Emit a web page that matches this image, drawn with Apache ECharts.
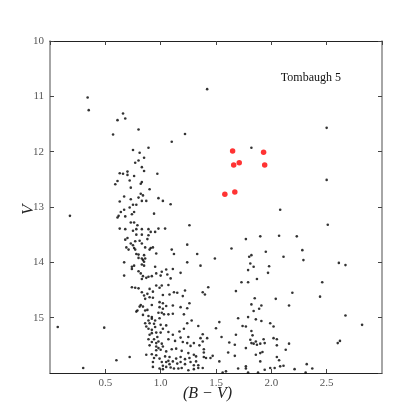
<!DOCTYPE html>
<html>
<head>
<meta charset="utf-8">
<script src="https://cdn.jsdelivr.net/npm/echarts@6/dist/echarts.min.js"></script>
<style>
  html, body { margin: 0; padding: 0; background: #fff; }
  #main { width: 415px; height: 415px; }
</style>
</head>
<body>
<div id="main"></div>
<script>
// (B-V), V for field stars (black dots)
const fieldStars = [
  [0.34, 11.02], [0.35, 11.25], [0.66, 11.31], [0.61, 11.43], [0.68, 11.40], [0.57, 11.69],
  [0.80, 11.60], [1.42, 10.87], [1.22, 11.68], [1.10, 11.82], [0.75, 11.97], [0.89, 11.93],
  [0.81, 12.02], [0.85, 12.11], [0.80, 12.16], [0.77, 12.20], [1.82, 11.93], [2.50, 11.57],
  [0.83, 12.28], [0.85, 12.35], [0.63, 12.39], [0.66, 12.40], [0.70, 12.36], [0.70, 12.42],
  [0.76, 12.44], [0.97, 12.40], [0.61, 12.53], [0.59, 12.59], [0.72, 12.52], [0.83, 12.55],
  [0.82, 12.58], [0.73, 12.65], [0.90, 12.68], [0.82, 12.76], [0.84, 12.79], [0.67, 12.81],
  [0.73, 12.86], [0.80, 12.83], [0.83, 12.89], [0.87, 12.89], [0.98, 12.84], [1.02, 12.89],
  [1.09, 12.95], [0.63, 12.90], [0.75, 12.96], [0.78, 12.96], [0.72, 13.01], [0.67, 13.05],
  [0.64, 13.09], [0.76, 13.09], [0.74, 13.13], [0.94, 13.12], [0.62, 13.16], [0.61, 13.19],
  [0.68, 13.17], [0.73, 13.28], [0.76, 13.28], [0.79, 13.33], [1.26, 13.33], [0.63, 13.39],
  [0.68, 13.40], [0.75, 13.43], [0.78, 13.40], [0.83, 13.40], [0.89, 13.40], [0.91, 13.45],
  [0.95, 13.45], [0.98, 13.39], [1.04, 13.39], [0.78, 13.50], [0.83, 13.50], [0.89, 13.51],
  [0.70, 13.56], [0.68, 13.59], [0.88, 13.58], [0.73, 13.66], [0.77, 13.62], [0.81, 13.61],
  [0.83, 13.66], [0.75, 13.69], [0.69, 13.73], [0.71, 13.77], [0.76, 13.74], [0.77, 13.77],
  [0.86, 13.73], [0.90, 13.77], [0.91, 13.74], [0.93, 13.73], [1.10, 13.77], [1.24, 13.68],
  [0.78, 13.85], [0.80, 13.86], [0.85, 13.87], [0.86, 13.93], [0.96, 13.84], [1.12, 13.85],
  [1.33, 13.85], [0.80, 13.92], [0.83, 13.93], [0.84, 13.96], [0.67, 14.00], [0.85, 13.99],
  [0.83, 14.04], [1.24, 14.00], [1.36, 14.06], [1.43, 14.45], [1.38, 14.54], [1.40, 14.58],
  [0.67, 14.24], [0.74, 14.08], [0.76, 14.06], [0.74, 14.12], [0.85, 14.06], [0.80, 14.16],
  [0.82, 14.20], [0.84, 14.25], [0.83, 14.30], [0.87, 14.28], [0.89, 14.26], [0.92, 14.25],
  [0.95, 14.08], [0.96, 14.20], [1.01, 14.17], [1.00, 14.24], [1.06, 14.22], [1.09, 14.29],
  [1.18, 14.19], [1.05, 14.13], [1.11, 14.12], [0.74, 14.45], [0.77, 14.46], [0.80, 14.47],
  [0.83, 14.54], [0.85, 14.60], [0.88, 14.57], [0.90, 14.48], [0.93, 14.53], [0.96, 14.42],
  [0.99, 14.46], [1.01, 14.42], [1.07, 14.41], [1.02, 14.59], [1.08, 14.58], [1.12, 14.54],
  [1.15, 14.55], [1.20, 14.61], [1.22, 14.51], [0.90, 14.63], [0.93, 14.64], [0.86, 14.66],
  [0.82, 14.77], [0.84, 14.80], [0.79, 14.87], [0.86, 14.87], [0.88, 14.86], [0.84, 14.95],
  [0.92, 14.77], [0.99, 14.72], [1.02, 14.74], [0.99, 14.81], [1.02, 14.84], [1.05, 14.79],
  [1.11, 14.78], [1.11, 14.93], [1.07, 14.94], [1.03, 14.94], [1.01, 14.91], [0.98, 14.91],
  [1.21, 14.94], [1.24, 14.83], [1.26, 14.74], [1.18, 14.81], [0.89, 14.97], [0.92, 14.99],
  [0.92, 15.02], [0.99, 15.01], [0.95, 15.05], [0.89, 15.05], [0.86, 15.10], [0.90, 15.10],
  [0.94, 15.11], [0.87, 15.16], [0.89, 15.20], [0.92, 15.22], [0.95, 15.17], [0.96, 15.27],
  [1.00, 15.27], [0.92, 15.28], [0.90, 15.31], [1.00, 15.13], [1.02, 15.20], [1.05, 15.14],
  [1.07, 15.26], [1.11, 15.31], [1.17, 15.25], [1.21, 15.20], [1.24, 15.10], [1.28, 15.05],
  [1.34, 15.15], [1.18, 15.36], [1.25, 15.35], [1.36, 15.37], [0.97, 15.35], [0.94, 15.39],
  [0.98, 15.43], [0.89, 15.39], [0.92, 15.44], [0.96, 15.46], [1.01, 15.47], [1.07, 15.39],
  [1.13, 15.42], [1.20, 15.44], [1.24, 15.46], [1.27, 15.51], [1.30, 15.46], [1.38, 15.43],
  [0.90, 15.50], [0.96, 15.52], [0.98, 15.55], [0.96, 15.59], [1.00, 15.58], [1.02, 15.52],
  [1.05, 15.61], [1.10, 15.57], [1.14, 15.56], [1.19, 15.60], [1.25, 15.64], [1.30, 15.67],
  [0.87, 15.67], [0.92, 15.66], [0.96, 15.68], [0.94, 15.73], [0.99, 15.74], [1.04, 15.70],
  [1.08, 15.71], [1.14, 15.74], [1.18, 15.71], [1.22, 15.75], [1.26, 15.73], [1.32, 15.70],
  [1.39, 15.71], [0.72, 15.71], [0.60, 15.77], [1.01, 15.80], [1.05, 15.80], [1.07, 15.78],
  [1.08, 15.84], [1.11, 15.79], [1.15, 15.83], [1.18, 15.80], [1.22, 15.84], [1.27, 15.80],
  [1.30, 15.86], [0.93, 15.80], [1.02, 15.87], [1.05, 15.89], [1.09, 15.90], [1.12, 15.92],
  [1.16, 15.92], [1.19, 15.91], [1.25, 15.95], [1.02, 15.93], [0.99, 15.92], [1.34, 15.91],
  [1.30, 15.93], [0.07, 15.17], [0.49, 15.18], [0.30, 15.91], [0.78, 14.89], [0.81, 14.80],
  [0.93, 15.89], [0.18, 13.16],
  [1.81, 14.02], [1.84, 14.08], [1.79, 14.14], [1.98, 14.07], [1.97, 14.19], [1.87, 14.30],
  [1.73, 14.36], [1.79, 14.36], [1.68, 14.52], [1.85, 14.65], [2.04, 14.66], [2.19, 14.55],
  [1.82, 14.76], [1.91, 14.78], [2.16, 14.78], [1.89, 14.84], [1.84, 14.88], [1.70, 15.01],
  [1.79, 14.99], [1.86, 15.03], [1.91, 15.06], [1.53, 15.08], [1.99, 15.10], [2.02, 15.16],
  [1.74, 15.15], [1.77, 15.16], [1.50, 15.19], [1.82, 15.24], [1.68, 15.31], [1.38, 15.30],
  [1.42, 15.37], [1.55, 15.35], [1.83, 15.32], [1.93, 15.39], [2.02, 15.37], [2.05, 15.39],
  [1.81, 15.40], [1.86, 15.43], [1.62, 15.45], [1.67, 15.49], [1.82, 15.46], [1.84, 15.47],
  [1.87, 15.49], [1.90, 15.47], [1.94, 15.46], [2.05, 15.50], [2.16, 15.47], [1.35, 15.50],
  [1.77, 15.55], [2.13, 15.58], [1.39, 15.57], [1.39, 15.63], [1.92, 15.62], [1.90, 15.64],
  [1.86, 15.67], [1.61, 15.63], [1.47, 15.69], [1.41, 15.73], [1.45, 15.73], [1.67, 15.69],
  [2.05, 15.71], [2.07, 15.77], [1.90, 15.79], [1.53, 15.79], [1.32, 15.79], [1.34, 15.86],
  [1.38, 15.91], [1.77, 15.88], [1.77, 15.92], [1.70, 15.92], [1.79, 15.99], [1.88, 15.99],
  [1.94, 15.94], [1.99, 15.91], [2.03, 15.91], [2.08, 15.88], [2.11, 15.87], [1.59, 15.97],
  [1.56, 15.99], [2.21, 15.93],
  [2.44, 14.62], [2.67, 14.96], [2.82, 15.13], [2.60, 15.46], [2.62, 15.42], [2.32, 15.84],
  [2.37, 15.92], [2.31, 15.99],
  [2.50, 12.51], [2.08, 13.05], [2.51, 13.32], [1.77, 13.58], [1.90, 13.53], [2.07, 13.52],
  [2.23, 13.53], [1.64, 13.75], [1.95, 13.81], [2.28, 13.78], [1.49, 13.93], [1.80, 13.90],
  [1.82, 13.87], [2.11, 13.90], [2.29, 13.96], [2.61, 14.01], [2.67, 14.05], [2.46, 14.36]
];

// red stars
const redStars = [
  [1.65, 11.99], [1.93, 12.01], [1.66, 12.24], [1.71, 12.20], [1.94, 12.24], [1.58, 12.77], [1.67, 12.73]
];

const xTicks = [0, 0.5, 1.0, 1.5, 2.0, 2.5, 3.0];
const yTicks = [10, 11, 12, 13, 14, 15, 16];
const clusterName = 'Tombaugh 5';

const font = "'Liberation Serif', 'DejaVu Serif', serif";
const grid = { left: 50, top: 41, width: 332, height: 332 };

function xAx(pos, labels) {
  return {
    type: 'value', position: pos, min: xTicks[0], max: xTicks[xTicks.length - 1], interval: 0.5,
    axisLine: { show: true, onZero: false, lineStyle: { color: '#222', width: 1 } },
    axisTick: { show: true, inside: true, length: 4, lineStyle: { color: '#444' } },
    splitLine: { show: false },
    axisLabel: {
      show: labels, showMinLabel: false, showMaxLabel: false, margin: 5,
      color: '#555', fontFamily: font, fontSize: 11,
      formatter: v => v.toFixed(1)
    }
  };
}
function yAx(pos, labels) {
  return {
    type: 'value', position: pos, inverse: true, min: yTicks[0], max: yTicks[yTicks.length - 1], interval: 1,
    axisLine: { show: true, onZero: false, lineStyle: { color: '#888', width: 1.5 } },
    axisTick: { show: true, inside: true, length: 4, lineStyle: { color: '#444' } },
    splitLine: { show: false },
    axisLabel: {
      show: labels, showMaxLabel: false, margin: 6,
      color: '#555', fontFamily: font, fontSize: 11
    }
  };
}

const myChart = echarts.init(document.getElementById('main'));
myChart.setOption({
  animation: false,
  backgroundColor: '#fff',
  grid: grid,
  title: {
    text: clusterName,
    right: 415 - 346, top: 67,
    textStyle: { fontFamily: font, fontSize: 12, fontWeight: 'normal', color: '#111' }
  },
  xAxis: [xAx('bottom', true), xAx('top', false)],
  yAxis: [yAx('left', true), yAx('right', false)],
  graphic: [
    {
      type: 'text', left: 'center', top: 386,
      style: { text: '(B − V)', font: "italic 16px " + font, fill: '#222' }
    },
    {
      type: 'text', x: 20, y: 215, rotation: Math.PI / 2,
      style: { text: 'V', font: "italic 17px " + font, fill: '#222' }
    }
  ],
  series: [
    {
      type: 'scatter', xAxisIndex: 0, yAxisIndex: 0,
      data: fieldStars, symbolSize: 2.6,
      itemStyle: { color: '#000' }
    },
    {
      type: 'scatter', xAxisIndex: 0, yAxisIndex: 0,
      data: redStars, symbolSize: 5.5,
      itemStyle: { color: '#ff0000' }
    }
  ]
});
</script>
</body>
</html>
